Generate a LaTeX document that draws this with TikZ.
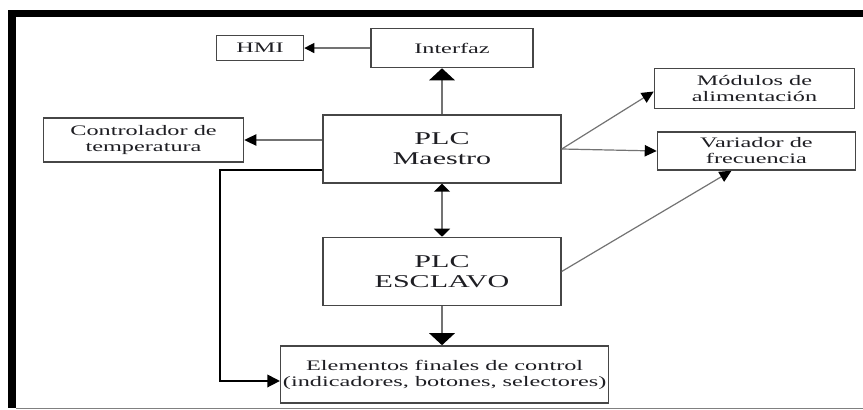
\documentclass[tikz,border=0pt]{standalone}
\usepackage{fontspec}
\setmainfont{Liberation Serif}[FakeStretch=1.67]
\usepackage{xcolor}
\definecolor{boxgray}{RGB}{70,70,70}
\definecolor{linegray}{RGB}{115,115,115}
\definecolor{textdark}{RGB}{30,30,35}
\usetikzlibrary{arrows.meta, positioning}

\begin{document}
\begin{tikzpicture}[
  x=0.75pt, y=-0.75pt,
  block/.style={
    rectangle, draw=boxgray, line width=1.1pt, inner sep=1pt,
    align=center, text=textdark, font=\fontsize{10.9}{12}\selectfont
  },
  plcblock/.style={block, minimum width=178.5pt, minimum height=51pt,
    font=\fontsize{13.5}{15}\selectfont},
  flow/.style={-{Triangle[length=9pt, width=8.5pt, color=black]},
    line width=0.9pt, color=linegray},
  smallflow/.style={-{Triangle[length=7.5pt, width=7.5pt, color=black]},
    line width=0.9pt, color=linegray},
  bigflow/.style={-{Triangle[length=9pt, width=19pt, color=black]},
    line width=1.6pt, color=linegray},
  duplex/.style={{Triangle[length=6pt, width=12pt, color=black]}-{Triangle[length=6pt, width=12pt, color=black]},
    line width=1.4pt, color=linegray},
  feedflow/.style={-{Triangle[length=9.5pt, width=9.5pt]}, line width=1.2pt, color=black}
]
\useasboundingbox (0,0) rectangle (863,410);

% frame
\fill[black] (8,10) rectangle (863,17);
\fill[black] (8,10) rectangle (16,408);
\draw[gray, line width=0.8pt] (16,408.5) -- (863,408.5);

% blocks
\node[plcblock] (maestro) at (442,149) {PLC\\Maestro};
\node[plcblock, below=39.75pt of maestro] (esclavo) {PLC\\ESCLAVO};
\node[block, minimum width=246pt, minimum height=42.75pt, below=29.25pt of esclavo, xshift=2pt]
  (elementos) {Elementos finales de control\\(indicadores, botones, selectores)};
\node[block, minimum width=121.5pt, minimum height=29.25pt, above=34.5pt of maestro, xshift=7.5pt]
  (interfaz) {Interfaz};
\node[block, minimum width=65.25pt, minimum height=18.75pt, left=49.5pt of interfaz] (hmi) {HMI};
\node[block, minimum width=150pt, minimum height=33pt, left=58.5pt of maestro, yshift=6.75pt]
  (controlador) {Controlador de\\temperatura};
\node[block, minimum width=148.5pt, minimum height=28.5pt, right=71.25pt of maestro, yshift=-1.5pt]
  (variador) {Variador de\\frecuencia};
\node[block, minimum width=150pt, minimum height=30pt, above=16.5pt of variador, xshift=-1.5pt]
  (modulos) {Módulos de\\alimentación};

% connectors
\draw[smallflow] (interfaz.west) -- (hmi.east);
\draw[bigflow] (maestro.north) -- (maestro.north |- interfaz.south);
\draw[flow] (maestro.west |- controlador.east) -- (controlador.east);
\draw[flow] (maestro.east) -- ([yshift=-2.25pt]modulos.west);
\draw[flow] (maestro.east) -- (variador.west);
\draw[duplex] (maestro.south) -- (esclavo.north);
\draw[flow] (esclavo.east) -- ([xshift=-18.75pt]variador.south);
\draw[bigflow] (esclavo.south) -- (esclavo.south |- elementos.north);
\draw[feedflow] ([yshift=-15.75pt]maestro.west) -- ++(-102,0) |- ([yshift=-4.9pt]elementos.west);
\end{tikzpicture}
\end{document}
